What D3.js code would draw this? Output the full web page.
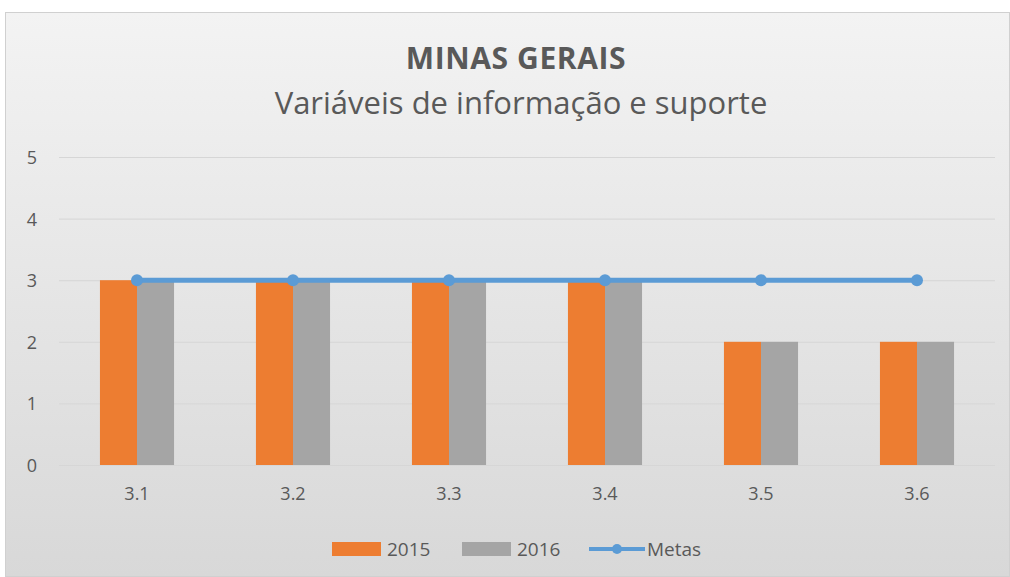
<!DOCTYPE html>
<html lang="pt">
<head>
  <meta charset="UTF-8" />
  <title>Minas Gerais</title>
  <script src="https://d3js.org/d3.v7.min.js"></script>
  <style>
    body { margin: 0; padding: 0; background: #fff; }
    svg text { font-family: "Open Sans", sans-serif; fill: #595959; }
  </style>
</head>
<body>
  <div id="chart"></div>
  <script>
    const categories = ["3.1", "3.2", "3.3", "3.4", "3.5", "3.6"];
    const values2015 = [3, 3, 3, 3, 2, 2];
    const values2016 = [3, 3, 3, 3, 2, 2];
    const metas = [3, 3, 3, 3, 3, 3];
    const yTicks = [0, 1, 2, 3, 4, 5];

    const W = 1010, H = 577;
    const margin = { top: 157, right: 15, bottom: 112, left: 59 };
    const width = W - margin.left - margin.right;
    const height = H - margin.top - margin.bottom;

    const svg = d3.select("#chart").append("svg")
      .attr("width", W).attr("height", H);

    const defs = svg.append("defs");
    const grad = defs.append("linearGradient")
      .attr("id", "bg").attr("x1", 0).attr("y1", 0).attr("x2", 0).attr("y2", 1);
    grad.append("stop").attr("offset", "0%").attr("stop-color", "#f3f3f3");
    grad.append("stop").attr("offset", "100%").attr("stop-color", "#d8d8d8");

    svg.append("rect")
      .attr("x", 5.5).attr("y", 12.5).attr("width", W - 6).attr("height", H - 13)
      .attr("fill", "url(#bg)").attr("stroke", "#d0d0d0");

    svg.append("text")
      .attr("x", 516).attr("y", 69).attr("text-anchor", "middle")
      .style("font-size", "30px").style("font-weight", "bold")
      .style("letter-spacing", "0.6px")
      .text("MINAS GERAIS");
    svg.append("text")
      .attr("x", 521).attr("y", 114).attr("text-anchor", "middle")
      .style("font-size", "31px")
      .text("Variáveis de informação e suporte");

    const g = svg.append("g").attr("transform", `translate(${margin.left},${margin.top})`);

    const x = d3.scaleBand().domain(categories).range([0, width]).paddingInner(0.525).paddingOuter(0.2625);
    const x1 = d3.scaleBand().domain(["2015", "2016"]).range([0, x.bandwidth()]);
    const y = d3.scaleLinear().domain([0, 5]).range([height, 0]);

    g.append("g")
      .call(d3.axisLeft(y).tickValues(yTicks).tickSize(-width).tickFormat(""))
      .call(s => s.select(".domain").remove())
      .call(s => s.selectAll("line").attr("stroke", "#d6d6d6"));

    yTicks.forEach(t => {
      g.append("text").attr("x", -27).attr("y", y(t) + 7)
        .attr("text-anchor", "middle").style("font-size", "18px").text(t);
    });

    const series = [
      { key: "2015", vals: values2015, color: "#ED7D31" },
      { key: "2016", vals: values2016, color: "#A5A5A5" }
    ];
    series.forEach(s => {
      g.selectAll(".bar" + s.key).data(categories).enter().append("rect")
        .attr("x", c => x(c) + x1(s.key))
        .attr("y", (c, i) => y(s.vals[i]))
        .attr("width", x1.bandwidth())
        .attr("height", (c, i) => height - y(s.vals[i]))
        .attr("fill", s.color);
    });

    const cx = c => x(c) + x.bandwidth() / 2;
    const line = d3.line().x((d, i) => cx(categories[i])).y(d => y(d));
    g.append("path").datum(metas).attr("d", line)
      .attr("fill", "none").attr("stroke", "#5B9BD5").attr("stroke-width", 5);
    g.selectAll(".dot").data(metas).enter().append("circle")
      .attr("cx", (d, i) => cx(categories[i])).attr("cy", d => y(d))
      .attr("r", 6).attr("fill", "#5B9BD5");

    g.selectAll(".xlab").data(categories).enter().append("text")
      .attr("x", c => cx(c)).attr("y", height + 35)
      .attr("text-anchor", "middle").style("font-size", "18px").text(c => c);

    // legend
    const leg = svg.append("g").attr("transform", "translate(0,549)");
    leg.append("rect").attr("x", 332).attr("y", -7).attr("width", 49).attr("height", 14).attr("fill", "#ED7D31");
    leg.append("text").attr("x", 387).attr("y", 7).style("font-size", "19px").text("2015");
    leg.append("rect").attr("x", 462).attr("y", -7).attr("width", 49).attr("height", 14).attr("fill", "#A5A5A5");
    leg.append("text").attr("x", 517).attr("y", 7).style("font-size", "19px").text("2016");
    leg.append("line").attr("x1", 589).attr("x2", 645).attr("y1", 0).attr("y2", 0)
      .attr("stroke", "#5B9BD5").attr("stroke-width", 4);
    leg.append("circle").attr("cx", 617).attr("cy", 0).attr("r", 5).attr("fill", "#5B9BD5");
    leg.append("text").attr("x", 647).attr("y", 7).style("font-size", "19px").text("Metas");
  </script>
</body>
</html>
